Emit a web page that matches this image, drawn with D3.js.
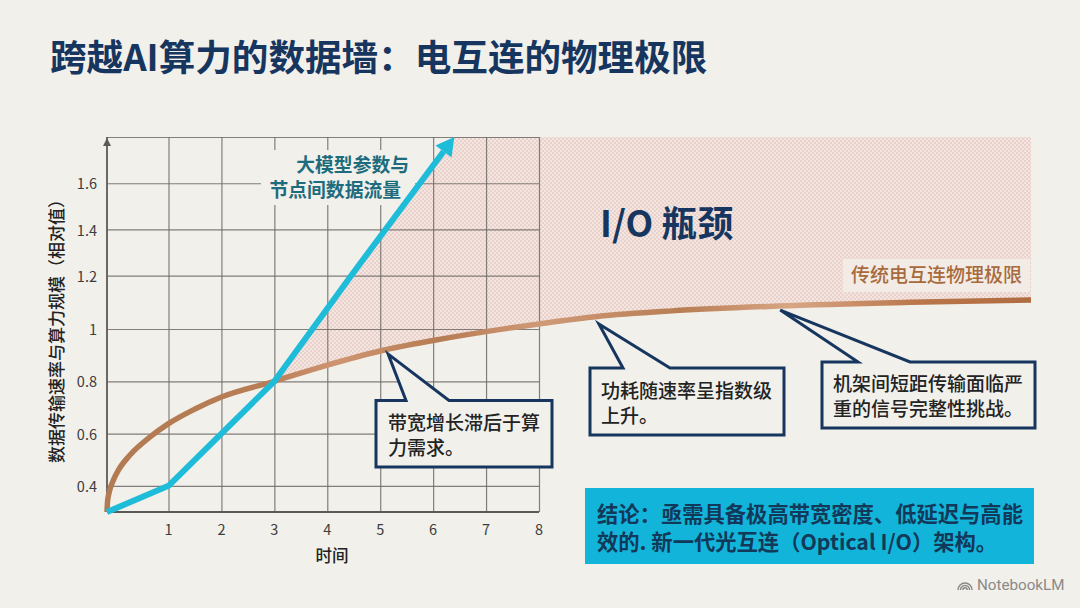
<!DOCTYPE html>
<html lang="zh">
<head>
<meta charset="utf-8">
<title>跨越AI算力的数据墙</title>
<script src="https://cdn.jsdelivr.net/npm/d3@7/dist/d3.min.js"></script>
<style>
  html, body { margin: 0; padding: 0; background: #f1f0eb; }
  svg { display: block; font-family: "Noto Sans CJK SC", "Noto Sans", sans-serif; }
</style>
</head>
<body>
<svg id="chart" width="1080" height="608"></svg>
<script>
// Chart values
const titleText = "跨越AI算力的数据墙\uFF1A电互连的物理极限";
const xTicks = [1, 2, 3, 4, 5, 6, 7, 8];
const yTicks = [0.4, 0.6, 0.8, 1, 1.2, 1.4, 1.6];
const yTop = 1.8;
const yBase = 0.3;
const xEnd = 17.28;

const demandTime = [0, 1, 2, 3, 3.72, 4.45, 6.4];
const demandValue = [0.3, 0.4, 0.6, 0.8, 1, 1.2, 1.8];

const limitTime = [0, 0.008, 0.033, 0.098, 0.195, 0.374, 0.7, 1, 1.5, 2, 3, 4, 5, 6, 7, 8, 9.1, 10.5, 12.5, 15, 17.28];
const limitValue = [0.3, 0.338, 0.373, 0.419, 0.464, 0.518, 0.587, 0.638, 0.694, 0.74, 0.8, 0.862, 0.916, 0.956, 0.99, 1.019, 1.047, 1.068, 1.086, 1.1, 1.109];

const demandLabel = ["大模型参数与", "节点间数据流量"];
const limitLabel = "传统电互连物理极限";
const gapLabel = "I/O 瓶颈";
const conclusionLines = [
  "结论\uFF1A亟需具备极高带宽密度、低延迟与高能",
  "效的. 新一代光互连\uFF08Optical I/O\uFF09架构。"
];
const calloutLines = [
  ["带宽增长滞后于算", "力需求。"],
  ["功耗随速率呈指数级", "上升。"],
  ["机架间短距传输面临严", "重的信号完整性挑战。"]
];
// Where each callout's pointer lands, just under the limit curve
const calloutTipTime = [5.15, 9.13, 12.55];
const calloutTipValue = [0.904, 1.019, 1.071];

const INK = "#17365f", CYAN = "#1fbcd9", PAPER = "#f1f0eb";

const svg = d3.select("#chart");
const defs = svg.append("defs");

svg.append("rect").attr("width", 1080).attr("height", 608).attr("fill", PAPER);

// Both axes are stretched unevenly in the drawing, hence the piecewise scales
const x = d3.scaleLinear().domain([0, 1, 8, xEnd]).range([107, 168.5, 539, 1031]);
const y = d3.scaleLinear().domain([yBase, 1, 1.2, yTop]).range([512, 329, 275.7, 137]);

// Fine checker fill for the gap region
const hatch = defs.append("pattern").attr("id", "hatch").attr("width", 4).attr("height", 4)
  .attr("patternUnits", "userSpaceOnUse");
hatch.append("rect").attr("width", 4).attr("height", 4).attr("fill", "#f3e6e1");
hatch.append("rect").attr("width", 2).attr("height", 2).attr("fill", "#ebd1cb");
hatch.append("rect").attr("x", 2).attr("y", 2).attr("width", 2).attr("height", 2).attr("fill", "#ebd1cb");

// Copper sheen along the limit curve
const copper = defs.append("linearGradient").attr("id", "copper")
  .attr("gradientUnits", "userSpaceOnUse")
  .attr("x1", x(0)).attr("x2", x(xEnd)).attr("y1", 0).attr("y2", 0);
[[0, "#b27b52"], [0.17, "#b87d55"], [0.25, "#cf9572"], [0.36, "#b67c52"], [0.47, "#d09a78"],
 [0.62, "#b87e53"], [0.74, "#d8a685"], [0.88, "#b9764a"], [1, "#b06c40"]]
  .forEach(([o, c]) => copper.append("stop").attr("offset", o).attr("stop-color", c));

// Title
svg.append("text").attr("x", 50).attr("y", 71).attr("font-size", 36.6).attr("font-weight", 700)
  .attr("fill", INK).text(titleText);

const straight = d3.line();
const demandAll = demandTime.map((t, i) => [x(t), y(demandValue[i])]);
const limitAll = limitTime.map((t, i) => [x(t), y(limitValue[i])]);
const tip = demandAll[demandAll.length - 1];
const prev = demandAll[demandAll.length - 2];

// Gap between demand and limit: the area above the curve, clipped right of the demand line
const demandFrom3 = demandAll.slice(demandTime.indexOf(3));
defs.append("clipPath").attr("id", "gapClip").append("path")
  .attr("d", straight(demandFrom3.concat([[x(xEnd), y(yTop)], [x(xEnd), 600], [demandFrom3[0][0], 600]])) + "Z");
svg.append("path")
  .attr("clip-path", "url(#gapClip)")
  .attr("fill", "url(#hatch)")
  .attr("d", d3.area().x(d => d[0]).y0(d => d[1]).y1(y(yTop)).curve(d3.curveMonotoneX)(limitAll));

// Grid: axis generators with ticks stretched across the plot
const gridColor = "#6e6a66";
const xGrid = svg.append("g").attr("transform", `translate(0,${y(yBase)})`)
  .call(d3.axisBottom(x).tickValues(xTicks).tickSize(y(yTop) - y(yBase)).tickFormat(""));
const yGrid = svg.append("g").attr("transform", `translate(${x(0)},0)`)
  .call(d3.axisLeft(y).tickValues(yTicks.concat([yTop])).tickSize(x(0) - x(8)).tickFormat(""));
[xGrid, yGrid].forEach(g => {
  g.select(".domain").remove();
  g.selectAll("line").attr("stroke", gridColor).attr("stroke-width", 1.2).attr("stroke-opacity", 0.85);
});

// Tick labels
svg.append("g").selectAll("text").data(yTicks).join("text")
  .attr("x", 97).attr("y", d => y(d)).attr("dy", "0.42em").attr("text-anchor", "end")
  .attr("font-size", 14.5).attr("fill", "#3d3d3d").text(d3.format("~g"));
svg.append("g").selectAll("text").data(xTicks).join("text")
  .attr("x", d => x(d)).attr("y", 535).attr("text-anchor", "middle")
  .attr("font-size", 14.5).attr("fill", "#3d3d3d").text(d => d);

// Axis titles
svg.append("text").attr("x", 332).attr("y", 562).attr("text-anchor", "middle")
  .attr("font-size", 16.5).attr("font-weight", 500).attr("fill", "#222").text("时间");
svg.append("text").attr("transform", "translate(63,327) rotate(-90)").attr("text-anchor", "middle")
  .attr("font-size", 17).attr("font-weight", 500).attr("fill", "#222")
  .text("数据传输速率与算力规模\uFF08相对值\uFF09");

// Axis lines with the upward arrow
const axisColor = "#5c5a58";
svg.append("line").attr("x1", x(0)).attr("x2", x(0)).attr("y1", y(yTop)).attr("y2", y(yBase))
  .attr("stroke", axisColor).attr("stroke-width", 1.8);
svg.append("line").attr("x1", x(0)).attr("x2", x(8)).attr("y1", y(yBase)).attr("y2", y(yBase))
  .attr("stroke", axisColor).attr("stroke-width", 1.8);
svg.append("path").attr("fill", axisColor)
  .attr("d", straight([[x(0), y(yTop) + 1], [x(0) + 4, y(yTop) + 9], [x(0) - 4, y(yTop) + 9]]) + "Z");

// Backing plate behind the demand label, cut off along the demand line
const plateTop = 150, plateBottom = 205, plateLeft = 261, plateRight = 415;
const lineXAt = py => prev[0] + (tip[0] - prev[0]) * (py - prev[1]) / (tip[1] - prev[1]);
const lineYAt = px => prev[1] + (tip[1] - prev[1]) * (px - prev[0]) / (tip[0] - prev[0]);
svg.append("path").attr("fill", PAPER).attr("d", straight([
  [plateLeft, plateTop], [plateRight, plateTop], [plateRight, lineYAt(plateRight)],
  [lineXAt(plateBottom), plateBottom], [plateLeft, plateBottom]
]) + "Z");
const demandText = svg.append("text").attr("text-anchor", "end").attr("font-size", 18.8)
  .attr("font-weight", 600).attr("fill", "#1d6c7d");
demandText.append("tspan").attr("x", 409).attr("y", 172).text(demandLabel[0]);
demandText.append("tspan").attr("x", 401).attr("y", 197).text(demandLabel[1]);

// Limit curve
svg.append("path").attr("fill", "none").attr("stroke", "url(#copper)").attr("stroke-width", 5.5)
  .attr("d", d3.line().x(d => d[0]).y(d => d[1]).curve(d3.curveMonotoneX)(limitAll));

// Demand line, stopped short of its arrowhead
const len = Math.hypot(tip[0] - prev[0], tip[1] - prev[1]);
const ux = (tip[0] - prev[0]) / len, uy = (tip[1] - prev[1]) / len;
const headLen = 18, headHalf = 10;
const neck = [tip[0] - ux * headLen, tip[1] - uy * headLen];
svg.append("path").attr("fill", "none").attr("stroke", CYAN).attr("stroke-width", 6)
  .attr("stroke-linejoin", "round")
  .attr("d", straight(demandAll.slice(0, -1).concat([neck])));
svg.append("path").attr("fill", CYAN).attr("d", straight([
  tip,
  [neck[0] - uy * headHalf, neck[1] + ux * headHalf],
  [neck[0] + uy * headHalf, neck[1] - ux * headHalf]
]) + "Z");

// Gap label
svg.append("text").attr("x", 600).attr("y", 237).attr("font-size", 36).attr("font-weight", 700)
  .attr("fill", INK).text(gapLabel);

// Limit label on its pale plate
svg.append("rect").attr("x", 843).attr("y", 259).attr("width", 187).attr("height", 33).attr("fill", "#f3ece6");
svg.append("text").attr("x", 851).attr("y", 282).attr("font-size", 19).attr("font-weight", 500)
  .attr("fill", "#a86a3c").text(limitLabel);

// Callouts: a box with a pointer running up to the curve
const boxes = [
  { l: 376, r: 552, t: 400.5, b: 467, b1: 406, b2: 449, tx: 388, ty: 430 },
  { l: 590, r: 784, t: 368, b: 435, b1: 623, b2: 670, tx: 601, ty: 398 },
  { l: 822, r: 1035, t: 362, b: 428, b1: 858, b2: 910, tx: 833, ty: 391 }
];
boxes.forEach((b, i) => {
  const pointer = [x(calloutTipTime[i]), y(calloutTipValue[i])];
  svg.append("path").attr("fill", PAPER).attr("stroke", INK).attr("stroke-width", 3)
    .attr("stroke-linejoin", "miter")
    .attr("d", straight([[b.l, b.t], [b.b1, b.t], pointer, [b.b2, b.t], [b.r, b.t], [b.r, b.b], [b.l, b.b]]) + "Z");
  calloutLines[i].forEach((s, j) => {
    svg.append("text").attr("x", b.tx).attr("y", b.ty + j * 25).attr("font-size", 19)
      .attr("font-weight", 500).attr("fill", "#232323").text(s);
  });
});

// Conclusion banner
svg.append("rect").attr("x", 585).attr("y", 488).attr("width", 449).attr("height", 76).attr("fill", "#12b5d9");
conclusionLines.forEach((s, j) => {
  svg.append("text").attr("x", 597).attr("y", 521.5 + j * 28).attr("font-size", 21.3)
    .attr("font-weight", 700).attr("fill", "#12395a").text(s);
});

// NotebookLM mark
const mark = svg.append("g").attr("transform", "translate(965,590)");
[7, 4.6, 2.2].forEach(r => {
  mark.append("path").attr("fill", "none").attr("stroke", "#8a8a88").attr("stroke-width", 1.5)
    .attr("d", d3.arc()({ innerRadius: r, outerRadius: r, startAngle: -Math.PI / 2, endAngle: Math.PI / 2 }));
});
svg.append("text").attr("x", 977).attr("y", 590).attr("font-size", 15.2)
  .attr("font-family", "Roboto, 'Noto Sans', sans-serif").attr("fill", "#8a8a88").text("NotebookLM");
</script>
</body>
</html>
